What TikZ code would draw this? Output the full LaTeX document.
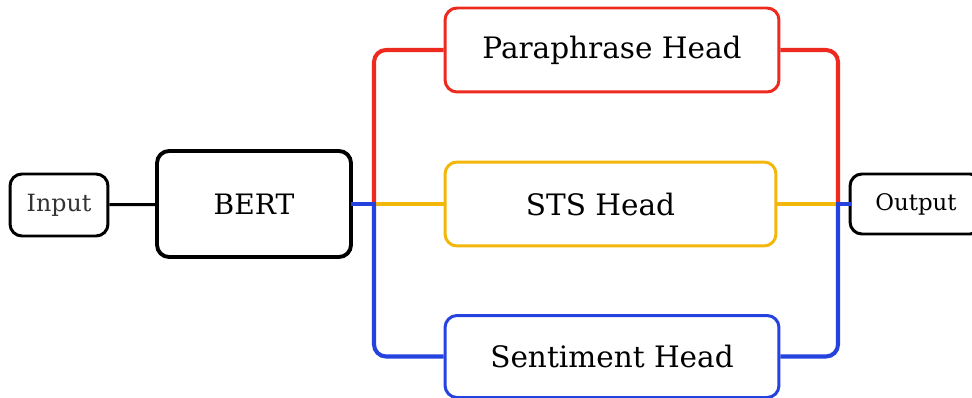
\documentclass[tikz,border=0pt]{standalone}
\usepackage{fontspec}
\setmainfont{DejaVu Serif}
\usetikzlibrary{positioning}

\definecolor{headred}{RGB}{236,42,32}
\definecolor{headyellow}{RGB}{243,182,10}
\definecolor{headblue}{RGB}{36,66,222}

\tikzset{
  box/.style={draw=black, line width=1.7pt, rounded corners=0.24cm, align=center, inner sep=0pt},
  bigbox/.style={box, line width=2.2pt, font=\fontsize{16}{18}\selectfont},
  smallbox/.style={box, font=\fontsize{13.5}{15}\selectfont},
  headbox/.style={box, minimum height=1.68cm, font=\fontsize{16.8}{19}\selectfont},
  wire/.style={line width=2.3pt, rounded corners=0.24cm},
  stub/.style={line width=2.3pt, line cap=rect}
}

\begin{document}
\begin{tikzpicture}[x=0.02cm, y=-0.02cm]
  \useasboundingbox (0,0) rectangle (972,398);
  \node[smallbox, text=black!80, minimum width=1.96cm, minimum height=1.24cm] (input) at (59,205) {Input};
  \node[bigbox, minimum width=3.88cm, minimum height=2.12cm] (bert) at (254,204) {BERT};
  \node[headbox, draw=headred, minimum width=6.68cm] (para) at (612,50) {Paraphrase Head};
  \node[headbox, draw=headyellow, minimum width=6.62cm] (sts) at (610.5,204) {STS Head\hspace{0.4cm}};
  \node[headbox, draw=headblue, minimum width=6.68cm, minimum height=1.64cm] (senti) at (612,356.5) {Sentiment Head};
  \node[smallbox, font=\fontsize{13}{15}\selectfont, minimum width=2.64cm, minimum height=1.2cm] (output) at (916,204) {Output};
  \coordinate (jl) at (374,204);
  \coordinate (jr) at (838,204);

  \draw[line width=1.7pt] (input) -- (bert);
  % left fan-out
  \draw[wire, headred] (jl) |- (para.west);
  \draw[wire, headyellow] (jl) -- (sts.west);
  \draw[stub, headblue] (bert.east) -- (jl);
  \draw[wire, headblue] (jl) |- (senti.west);
  % right fan-in
  \draw[wire, headred] (para.east) -| (jr);
  \draw[wire, headyellow] (sts.east) -- (jr);
  \draw[wire, headblue] (senti.east) -| (jr);
  \draw[stub, headblue] (jr) -- (output.west);
\end{tikzpicture}
\end{document}
